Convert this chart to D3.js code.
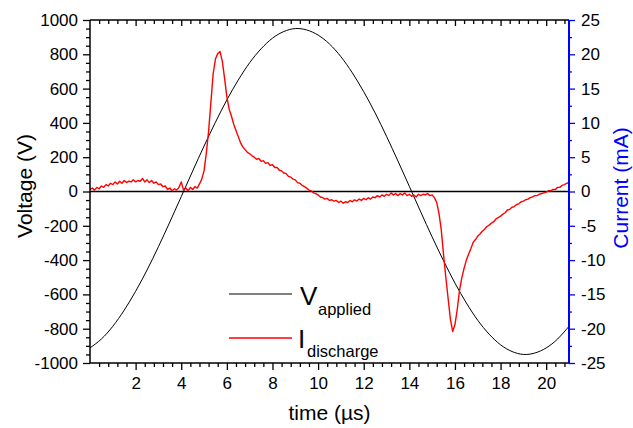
<!DOCTYPE html>
<html>
<head>
<meta charset="utf-8">
<script src="https://cdn.jsdelivr.net/npm/d3@7"></script>
<style>
  body { margin: 0; background: #fff; }
  svg text { font-family: "Liberation Sans", Arial, sans-serif; }
</style>
</head>
<body>
<div id="chart"></div>
<script>
// time grid (µs) of the voltage samples
const voltageTime = [0, 0.5, 1, 1.5, 2, 2.5, 3, 3.5, 4, 4.5, 5, 5.5, 6, 6.5, 7, 7.5, 8, 8.5, 9, 9.5, 10,
  10.5, 11, 11.5, 12, 12.5, 13, 13.5, 14, 14.5, 15, 15.5, 16, 16.5, 17, 17.5, 18, 18.5, 19, 19.5, 20, 20.5, 21];
// applied voltage (V)
const voltageValues = [-912, -860, -786, -692, -582, -458, -322, -178, -30, 119, 265, 404, 534, 650, 751,
  832, 894, 933, 950, 942, 912, 860, 786, 692, 582, 458, 322, 178, 30, -119, -265, -404, -534, -650,
  -751, -832, -894, -933, -950, -942, -912, -860, -786];

// discharge current (mA), sampled every 0.1 µs from 0 to 21 µs
const currentStep = 0.1;
const currentValues = [
  0.3, 0.5, 0.2, 0.6, 0.4, 0.8, 0.6, 1.0, 0.8, 1.2,
  1.0, 1.4, 1.1, 1.5, 1.2, 1.6, 1.3, 1.5, 1.4, 1.7,
  1.4, 1.6, 1.5, 1.9, 1.4, 1.7, 1.3, 1.6, 1.2, 1.4,
  1.0, 1.1, 0.7, 0.8, 0.3, 0.5, 0.1, 0.4, 0.2, 0.6,
  1.4, 0.2, 0.5, 0.1, 0.6, 0.3, 0.7, 0.5, 1.1, 1.8,
  3.0, 5.6, 8.8, 13.0, 17.2, 19.3, 20.1, 20.4, 19.0, 16.5,
  13.8, 12.0, 11.0, 9.8, 8.9, 8.0, 7.1, 6.5, 6.1, 5.7,
  5.5, 5.2, 5.0, 4.7, 4.8, 4.4, 4.5, 4.1, 4.2, 3.8,
  3.9, 3.5, 3.5, 3.1, 3.0, 2.7, 2.6, 2.2, 2.1, 1.8,
  1.7, 1.3, 1.2, 0.9, 0.7, 0.5, 0.2, 0.1, -0.2, -0.3,
  -0.5, -0.8, -0.9, -1.1, -1.0, -1.3, -1.2, -1.4, -1.3, -1.6,
  -1.4, -1.7, -1.5, -1.6, -1.3, -1.5, -1.2, -1.4, -1.1, -1.3,
  -1.0, -1.2, -0.9, -1.1, -0.8, -0.9, -0.6, -0.8, -0.5, -0.7,
  -0.4, -0.6, -0.2, -0.5, -0.3, -0.6, -0.3, -0.5, -0.2, -0.6,
  -0.4, -0.7, -0.5, -0.8, -0.4, -0.6, -0.4, -0.5, -0.3, -0.6,
  -0.5, -0.9, -1.6, -3.2, -5.6, -9.2, -12.5, -15.6, -18.6, -20.4,
  -19.4, -17.2, -14.4, -12.6, -11.2, -10.0, -9.1, -8.3, -7.4, -7.0,
  -6.5, -6.2, -5.8, -5.5, -5.1, -4.9, -4.6, -4.4, -4.0, -3.8,
  -3.6, -3.3, -3.1, -2.7, -2.6, -2.3, -2.2, -1.9, -1.8, -1.5,
  -1.4, -1.2, -1.1, -0.9, -0.8, -0.6, -0.6, -0.4, -0.3, -0.2,
  -0.1, 0.1, 0.1, 0.3, 0.3, 0.6, 0.6, 0.9, 1.0, 1.2, 1.3
];

const timeTicks = [2, 4, 6, 8, 10, 12, 14, 16, 18, 20];
const voltageTicks = [-1000, -800, -600, -400, -200, 0, 200, 400, 600, 800, 1000];
const currentTicks = [-25, -20, -15, -10, -5, 0, 5, 10, 15, 20, 25];

const width = 633, height = 428;
const plotLeft = 90, plotRight = 569, plotTop = 20, plotBottom = 363;

const svg = d3.select('#chart').append('svg')
    .attr('width', width)
    .attr('height', height);

const x = d3.scaleLinear([0, 21], [plotLeft, plotRight]);
const yV = d3.scaleLinear([-1000, 1000], [plotBottom, plotTop]);
const yI = d3.scaleLinear([-25, 25], [plotBottom, plotTop]);

// minor tick positions
const timeMinor = d3.range(0.4, 21, 0.4).filter(t => Math.abs(t / 2 - Math.round(t / 2)) > 0.01);
const voltMinor = d3.range(-950, 1000, 50).filter(v => v % 200 !== 0);
const currMinor = d3.range(-22.5, 25, 5);

// zero line
svg.append('line')
    .attr('x1', plotLeft).attr('x2', plotRight)
    .attr('y1', yV(0)).attr('y2', yV(0))
    .attr('stroke', '#000')
    .attr('stroke-width', 1.5);

// voltage curve
const vData = voltageTime.map((t, i) => [t, voltageValues[i]]);
svg.append('path')
    .datum(vData)
    .attr('fill', 'none')
    .attr('stroke', '#000')
    .attr('stroke-width', 1)
    .attr('d', d3.line().x(d => x(d[0])).y(d => yV(d[1])).curve(d3.curveNatural));

// current curve
const iData = currentValues.map((v, i) => [i * currentStep, v]);
svg.append('path')
    .datum(iData)
    .attr('fill', 'none')
    .attr('stroke', '#ff0000')
    .attr('stroke-width', 1.4)
    .attr('stroke-linejoin', 'round')
    .attr('d', d3.line().x(d => x(d[0])).y(d => yI(d[1])));

// legend
const legend = svg.append('g');
legend.append('line')
    .attr('x1', 229).attr('x2', 292).attr('y1', 294).attr('y2', 294)
    .attr('stroke', '#000').attr('stroke-width', 1);
legend.append('line')
    .attr('x1', 229).attr('x2', 292).attr('y1', 338).attr('y2', 338)
    .attr('stroke', '#ff0000').attr('stroke-width', 1.5);
const vLabel = legend.append('text').attr('x', 300).attr('y', 305).attr('font-size', 26).text('V');
vLabel.append('tspan').attr('x', 318).attr('y', 315).attr('font-size', 16.5).text('applied');
const iLabel = legend.append('text').attr('x', 298).attr('y', 348).attr('font-size', 26).text('I');
iLabel.append('tspan').attr('x', 307).attr('y', 357).attr('font-size', 16.5).text('discharge');

// axes
function styleAxis(g, color) {
    g.select('.domain').remove();
    g.selectAll('line').attr('stroke', color).attr('stroke-width', 1.3);
    g.selectAll('text').attr('font-size', 17).attr('fill', '#000')
        .attr('font-family', '"Liberation Sans", Arial, sans-serif');
}

// bottom
svg.append('g').attr('transform', `translate(0,${plotBottom})`)
    .call(d3.axisBottom(x).tickValues(timeTicks).tickSizeInner(7).tickSizeOuter(0).tickPadding(7).tickFormat(d3.format('d')))
    .call(g => styleAxis(g, '#000'));
svg.append('g').attr('transform', `translate(0,${plotBottom})`)
    .call(d3.axisBottom(x).tickValues(timeMinor).tickSizeInner(4).tickSizeOuter(0).tickFormat(''))
    .call(g => styleAxis(g, '#000'));

// top (ticks pointing inward, no labels)
svg.append('g').attr('transform', `translate(0,${plotTop})`)
    .call(d3.axisBottom(x).tickValues(timeTicks).tickSizeInner(6).tickSizeOuter(0).tickFormat(''))
    .call(g => styleAxis(g, '#000'));
svg.append('g').attr('transform', `translate(0,${plotTop})`)
    .call(d3.axisBottom(x).tickValues(timeMinor).tickSizeInner(4).tickSizeOuter(0).tickFormat(''))
    .call(g => styleAxis(g, '#000'));

// left
svg.append('g').attr('transform', `translate(${plotLeft},0)`)
    .call(d3.axisLeft(yV).tickValues(voltageTicks).tickSizeInner(7).tickSizeOuter(0).tickPadding(5).tickFormat(d3.format('d')))
    .call(g => styleAxis(g, '#000'))
    .call(g => g.selectAll('text').text(d => d < 0 ? '-' + Math.abs(d) : d));
svg.append('g').attr('transform', `translate(${plotLeft},0)`)
    .call(d3.axisLeft(yV).tickValues(voltMinor).tickSizeInner(4).tickSizeOuter(0).tickFormat(''))
    .call(g => styleAxis(g, '#000'));

// right (blue)
svg.append('g').attr('transform', `translate(${plotRight},0)`)
    .call(d3.axisRight(yI).tickValues(currentTicks).tickSizeInner(6).tickSizeOuter(0).tickPadding(6).tickFormat(d3.format('d')))
    .call(g => styleAxis(g, '#0000ff'))
    .call(g => g.selectAll('text').text(d => d < 0 ? '-' + Math.abs(d) : d));
svg.append('g').attr('transform', `translate(${plotRight},0)`)
    .call(d3.axisRight(yI).tickValues(currMinor).tickSizeInner(3).tickSizeOuter(0).tickFormat(''))
    .call(g => styleAxis(g, '#0000ff'));

// frame lines
svg.append('line').attr('x1', plotLeft).attr('x2', plotRight).attr('y1', plotTop).attr('y2', plotTop)
    .attr('stroke', '#000').attr('stroke-width', 1.5);
svg.append('line').attr('x1', plotLeft).attr('x2', plotRight).attr('y1', plotBottom).attr('y2', plotBottom)
    .attr('stroke', '#000').attr('stroke-width', 1.5);
svg.append('line').attr('x1', plotLeft).attr('x2', plotLeft).attr('y1', plotTop).attr('y2', plotBottom)
    .attr('stroke', '#000').attr('stroke-width', 1.5);
svg.append('line').attr('x1', plotRight).attr('x2', plotRight).attr('y1', plotTop).attr('y2', plotBottom + 0.75)
    .attr('stroke', '#0000ff').attr('stroke-width', 2);

// axis titles
svg.append('text')
    .attr('transform', `translate(32,186) rotate(-90)`)
    .attr('text-anchor', 'middle')
    .attr('font-size', 21)
    .text('Voltage (V)');
svg.append('text')
    .attr('transform', `translate(628,188) rotate(-90)`)
    .attr('text-anchor', 'middle')
    .attr('font-size', 21)
    .attr('fill', '#0000ff')
    .text('Current (mA)');
svg.append('text')
    .attr('x', (plotLeft + plotRight) / 2)
    .attr('y', 420)
    .attr('text-anchor', 'middle')
    .attr('font-size', 21)
    .text('time (µs)');
</script>
</body>
</html>
